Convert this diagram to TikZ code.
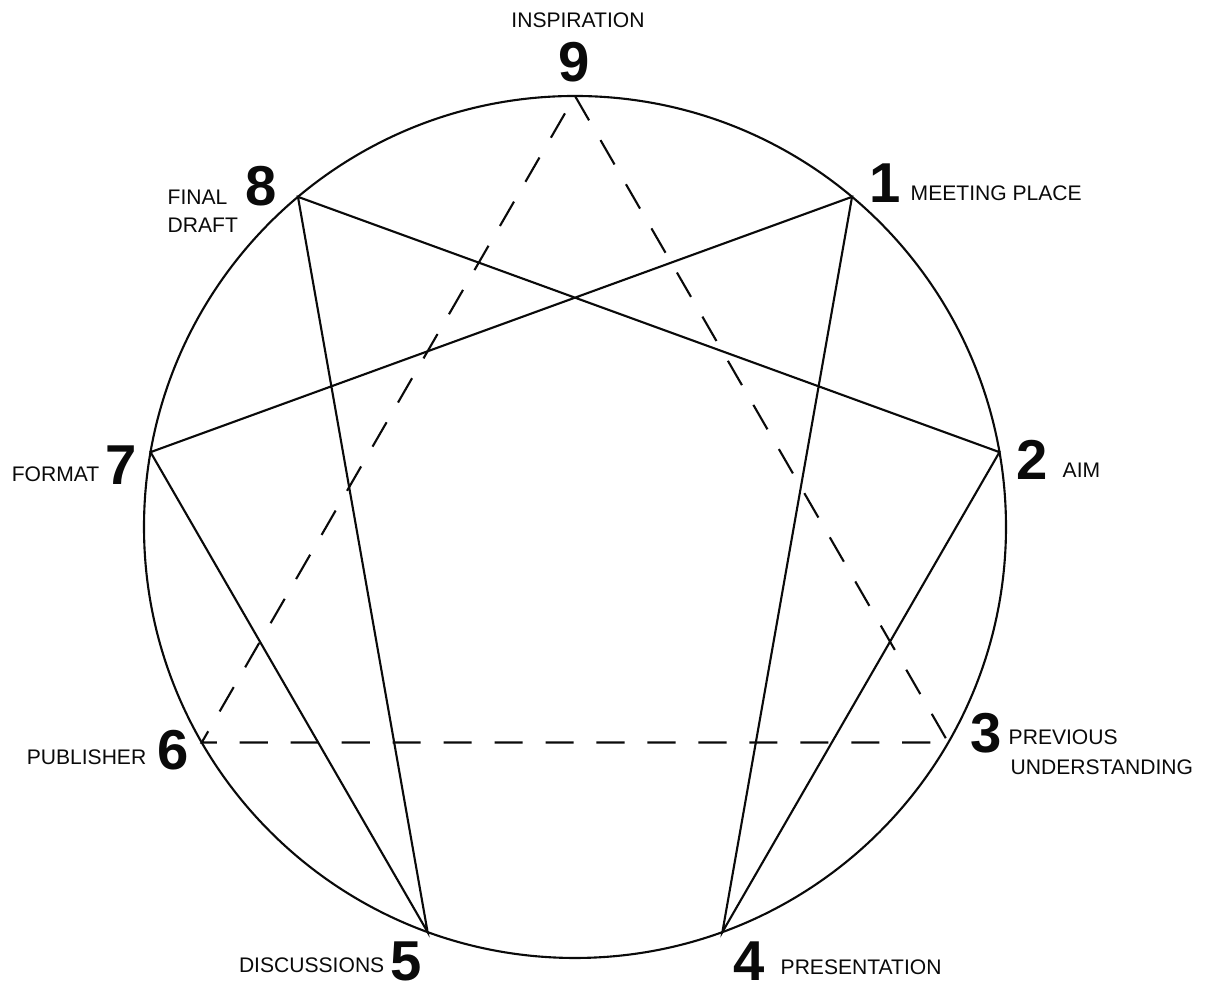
\documentclass[tikz,border=0pt]{standalone}
\usepackage{fontspec}
\setmainfont{Liberation Sans}
\usepackage{tikz}
\usetikzlibrary{positioning}
\definecolor{inkblack}{RGB}{10,10,10}

\begin{document}
\begin{tikzpicture}[
  numlabel/.style={font=\bfseries\fontsize{16}{16}\selectfont, inner sep=0pt, inkblack},
  txtlabel/.style={font=\fontsize{6}{7}\selectfont, inner sep=0pt, inkblack},
  chord/.style={inkblack, line width=0.6pt},
  dashchord/.style={inkblack, line width=0.6pt, dash pattern=on 8pt off 6.5pt}
]
  \useasboundingbox (0,0) rectangle (12.06,9.91);
  % Circle
  \coordinate (c) at (5.75,4.64);
  \draw[chord] (c) circle (4.31);
  % Points on the circle
  \foreach \n/\a in {9/90, 1/50, 2/10, 3/-30, 4/-70, 5/-110, 6/-150, 7/170, 8/130}{
    \path (c) ++(\a:4.31) coordinate (p\n);
  }
  % Inner figure
  \draw[chord] (p1) -- (p4) -- (p2) -- (p8) -- (p5) -- (p7) -- cycle;
  % Triangle
  \draw[dashchord] (p9) -- (p3) -- (p6) -- cycle;
  % Numbers
  \foreach \n/\x/\y in {9/5.74/9.29, 1/8.85/8.08, 2/10.32/5.31, 3/9.86/2.58,
                        4/7.49/0.30, 5/4.06/0.30, 6/1.73/2.41, 7/1.21/5.26, 8/2.61/8.05}{
    \node[numlabel] (n\n) at (\x,\y) {\n};
  }
  % Labels
  \node[txtlabel] (inspiration) at (5.78,9.71) {INSPIRATION};
  \node[txtlabel, anchor=west] (meeting) at (9.10,7.98) {MEETING PLACE};
  \node[txtlabel, anchor=west] (aim) at (10.62,5.21) {AIM};
  \node[txtlabel, anchor=west] (previous) at (10.08,2.54) {PREVIOUS};
  \node[txtlabel, anchor=west] (understanding) at (10.10,2.24) {UNDERSTANDING};
  \node[txtlabel, anchor=west] (presentation) at (7.80,0.24) {PRESENTATION};
  \node[txtlabel, anchor=east] (discussions) at (3.85,0.26) {DISCUSSIONS};
  \node[txtlabel, anchor=east] (publisher) at (1.47,2.34) {PUBLISHER};
  \node[txtlabel, anchor=east] (format) at (1.00,5.17) {FORMAT};
  \node[txtlabel, anchor=west] (final) at (1.67,7.94) {FINAL};
  \node[txtlabel, anchor=west] (draft) at (1.67,7.66) {DRAFT};
\end{tikzpicture}
\end{document}
